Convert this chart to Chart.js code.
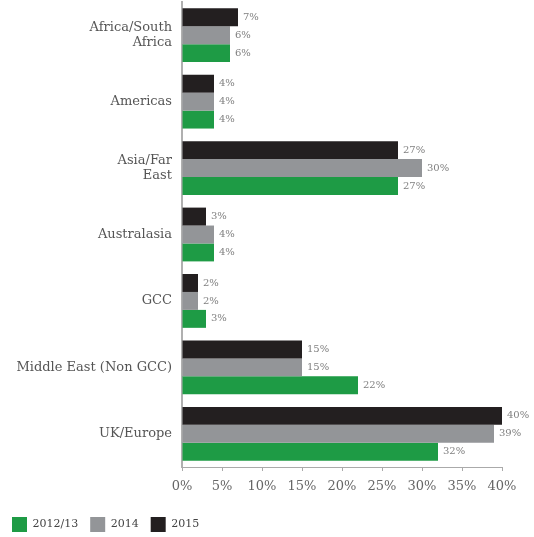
<!DOCTYPE html>
<html lang="en">
<head>
  <meta charset="UTF-8" />
  <title>Regional split</title>
  <script src="https://cdn.jsdelivr.net/npm/chart.js"></script>
  <style>
    html, body { margin: 0; padding: 0; background: #fff; }
    .wrap { width: 534px; height: 537px; position: relative; }
  </style>
</head>
<body>
  <div class="wrap">
    <canvas id="regionChart"></canvas>
  </div>

  <script>
    // Data
    const categories = [
      ['Africa/South', 'Africa'],
      'Americas',
      ['Asia/Far', 'East'],
      'Australasia',
      'GCC',
      'Middle East (Non GCC)',
      'UK/Europe'
    ];
    const values2012 = [6, 4, 27, 4, 3, 22, 32];
    const values2014 = [6, 4, 30, 4, 2, 15, 39];
    const values2015 = [7, 4, 27, 3, 2, 15, 40];
    const xMin = 0;
    const xMax = 40;
    const xStep = 5;

    const fontFamily = '"DejaVu Serif", serif';

    // writes "n%" just past the end of each bar
    const barLabels = {
      id: 'barLabels',
      afterDatasetsDraw(chart) {
        const ctx = chart.ctx;
        ctx.save();
        ctx.font = '10px ' + fontFamily;
        ctx.fillStyle = '#808080';
        ctx.textAlign = 'left';
        ctx.textBaseline = 'middle';
        chart.data.datasets.forEach((ds, i) => {
          chart.getDatasetMeta(i).data.forEach((bar, j) => {
            ctx.fillText(ds.data[j] + '%', bar.x + 5, bar.y);
          });
        });
        ctx.restore();
      }
    };

    const ctx = document.getElementById('regionChart').getContext('2d');
    new Chart(ctx, {
      type: 'bar',
      data: {
        labels: categories,
        datasets: [
          { label: '2015', data: values2015, backgroundColor: '#231f20' },
          { label: '2014', data: values2014, backgroundColor: '#939598' },
          { label: '2012/13', data: values2012, backgroundColor: '#1e9b45' }
        ]
      },
      options: {
        indexAxis: 'y',
        responsive: true,
        maintainAspectRatio: false,
        animation: false,
        layout: { padding: { top: 2, right: 32, bottom: -5, left: 0 } },
        datasets: {
          bar: { categoryPercentage: 0.81, barPercentage: 1.0 }
        },
        scales: {
          y: {
            grid: { display: false, drawTicks: false },
            border: { color: '#b0b0b0', width: 2 },
            ticks: {
              color: '#555',
              padding: 10,
              font: { family: fontFamily, size: 13 }
            },
            afterFit(scale) {
              scale.width = 182;
              scale.paddingTop = 0;
              scale.paddingBottom = 0;
            }
          },
          x: {
            min: xMin,
            max: xMax,
            grid: { drawOnChartArea: false, drawTicks: true, tickLength: 4, color: '#aaa' },
            border: { color: '#aaa', width: 1 },
            ticks: {
              stepSize: xStep,
              color: '#666',
              padding: 8,
              font: { family: fontFamily, size: 13 },
              callback: v => v + '%'
            },
            afterFit(scale) { scale.height = 38; }
          }
        },
        plugins: {
          legend: {
            position: 'bottom',
            align: 'start',
            reverse: true,
            labels: {
              boxWidth: 15,
              boxHeight: 15,
              padding: 12,
              color: '#444',
              font: { family: fontFamily, size: 11 }
            }
          },
          tooltip: { enabled: false }
        }
      },
      plugins: [barLabels]
    });
  </script>
</body>
</html>
